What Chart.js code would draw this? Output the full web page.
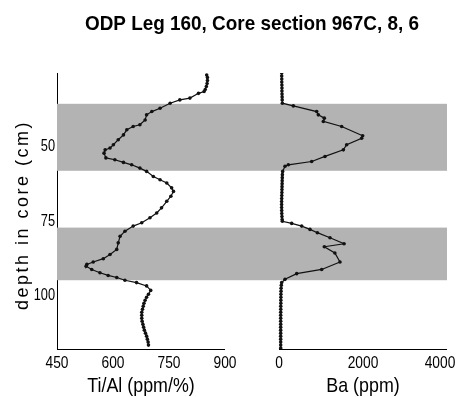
<!DOCTYPE html>
<html>
<head>
<meta charset="utf-8">
<script src="https://cdn.jsdelivr.net/npm/chart.js@4.4.1/dist/chart.umd.min.js"></script>
<style>
  html, body { margin: 0; padding: 0; background: #fff; }
  #wrap { width: 463px; height: 397px; position: relative; }
</style>
</head>
<body>
<div id="wrap"><canvas id="coreChart" width="463" height="397"></canvas></div>
<script>
const chartTitle = 'ODP Leg 160, Core section 967C, 8, 6';
const depthTitle = 'depth in core (cm)';
const tiTitle = 'Ti/Al (ppm/%)';
const baTitle = 'Ba (ppm)';

const depthTicks = [50, 75, 100];
const tiTicks = [450, 600, 750, 900];
const baTicks = [0, 2000, 4000];

// shaded sapropel intervals (cm)
const bandTop = [36.3, 77.7];
const bandBottom = [58.7, 95.3];

const tiDepth = [26.7, 27.5, 28.5, 29.5, 30.5, 31.5, 32.2, 32.8, 34.4, 35, 36.1, 37.8, 38.9, 40, 41.7, 43.3, 43.9, 45, 46.7, 48.3, 50, 51.1, 51.7, 52.8, 54.4, 55, 55.9, 56.7, 57.8, 58.9, 60.6, 61.7, 62.8, 64.4, 65.6, 67.2, 68.9, 71.1, 72.8, 74.4, 76.1, 77.2, 78.9, 80.6, 82.8, 85, 86.7, 88.1, 89.2, 90, 90.6, 91.7, 92.8, 93.7, 94.4, 95.3, 96.1, 97.2, 98.7, 100, 101, 102, 103, 104, 105, 106, 107, 108, 109, 110, 111, 112, 113, 114, 115, 116, 117];
const tiValues = [851, 853, 853, 852, 850, 847, 844, 829, 806, 779, 753, 726, 704, 690, 686, 672, 654, 637, 628, 614, 601, 592, 579, 576, 581, 605, 628, 650, 672, 690, 708, 726, 744, 757, 762, 755, 744, 730, 717, 699, 677, 654, 632, 619, 614, 610, 592, 574, 547, 530, 528, 543, 565, 587, 610, 632, 663, 690, 701, 695, 690, 686, 683, 681, 679, 677, 677, 677, 678, 680, 682, 684, 687, 690, 692, 694, 695];

const baDepth = [26, 27, 28, 29, 30, 31, 32, 33, 34, 35, 36.1, 37, 38.9, 40, 41.1, 42.2, 43.9, 47, 47.8, 50, 51.7, 53.9, 55.6, 56.7, 57.2, 58.9, 60, 61, 62, 63, 64, 65, 66, 67, 68, 69, 70, 71, 72, 73, 74, 75, 75.6, 76.3, 77.2, 78.3, 79.4, 81.1, 83.1, 84.1, 86.2, 89.2, 91.7, 93.1, 95, 96.1, 97, 98, 99, 100, 101, 102, 103, 104, 105, 106, 107, 108, 109, 110, 111, 112, 113, 114, 115, 116, 117, 118];
const baValues = [64, 64, 66, 66, 68, 70, 70, 72, 74, 76, 80, 341, 897, 936, 1079, 1055, 1492, 1992, 1968, 1611, 1532, 1095, 778, 222, 143, 87, 80, 78, 76, 74, 72, 70, 68, 66, 64, 62, 62, 62, 64, 66, 70, 75, 80, 302, 540, 738, 913, 1214, 1548, 1079, 1330, 1452, 1016, 421, 143, 64, 55, 50, 48, 45, 45, 44, 43, 42, 42, 41, 40, 40, 40, 40, 40, 40, 40, 40, 40, 40, 40, 40];

const sans = "'Liberation Sans', Arial, sans-serif";

// no condensed face installed, so squeeze Liberation Sans horizontally
function narrowText(ctx, text, x, y, font, squeeze, align) {
    ctx.save();
    ctx.translate(x, y);
    ctx.scale(squeeze, 1);
    ctx.font = font;
    ctx.textAlign = align || 'center';
    ctx.textBaseline = 'alphabetic';
    ctx.fillText(text, 0, 0);
    ctx.restore();
}

const decorations = {
    id: 'decorations',
    beforeDatasetsDraw(chart) {
        const ctx = chart.ctx;
        const area = chart.chartArea;
        const y = chart.scales.y;
        ctx.save();
        ctx.fillStyle = '#b3b3b3';
        for (let i = 0; i < bandTop.length; i++) {
            const top = y.getPixelForValue(bandTop[i]);
            const bottom = y.getPixelForValue(bandBottom[i]);
            ctx.fillRect(area.left, top, area.right - area.left, bottom - top);
        }
        ctx.restore();
    },
    afterDraw(chart) {
        const ctx = chart.ctx;
        const area = chart.chartArea;
        const xTi = chart.scales.xTi;
        const xBa = chart.scales.xBa;
        const y = chart.scales.y;
        ctx.save();
        ctx.strokeStyle = '#000';
        ctx.fillStyle = '#000';
        ctx.lineWidth = 1;
        const axisY = Math.round(area.bottom) + 0.5;
        ctx.beginPath();
        ctx.moveTo(xTi.getPixelForValue(tiTicks[0]), axisY);
        ctx.lineTo(xTi.getPixelForValue(tiTicks[tiTicks.length - 1]), axisY);
        ctx.moveTo(xBa.getPixelForValue(baTicks[0]), axisY);
        ctx.lineTo(xBa.getPixelForValue(baTicks[baTicks.length - 1]), axisY);
        ctx.stroke();

        // title
        narrowText(ctx, chartTitle, (area.left + area.right) / 2, 30, 'bold 21px ' + sans, 0.9);

        // y tick labels
        depthTicks.forEach(v => narrowText(ctx, String(v), area.left - 2, y.getPixelForValue(v) + 6, '16px ' + sans, 0.8, 'right'));

        // x tick labels
        const tickFont = '17px ' + sans;
        tiTicks.forEach(v => narrowText(ctx, String(v), xTi.getPixelForValue(v), area.bottom + 19, tickFont, 0.81));
        baTicks.forEach(v => {
            const px = Math.min(xBa.getPixelForValue(v), area.right - 7);
            narrowText(ctx, String(v), px, area.bottom + 19, tickFont, 0.81);
        });

        // x axis titles
        const titleFont = '21px ' + sans;
        const tiMid = (xTi.getPixelForValue(tiTicks[0]) + xTi.getPixelForValue(tiTicks[tiTicks.length - 1])) / 2;
        const baMid = (xBa.getPixelForValue(baTicks[0]) + xBa.getPixelForValue(baTicks[baTicks.length - 1])) / 2;
        narrowText(ctx, tiTitle, tiMid, area.bottom + 43, titleFont, 0.85);
        narrowText(ctx, baTitle, baMid, area.bottom + 43, titleFont, 0.85);

        // y axis title, letter spaced
        ctx.translate(23, (area.top + area.bottom) / 2 + 4);
        ctx.rotate(-Math.PI / 2);
        ctx.font = '18px ' + sans;
        ctx.textAlign = 'center';
        ctx.textBaseline = 'middle';
        ctx.letterSpacing = '2.5px';
        ctx.fillText(depthTitle, 0, 0);
        ctx.restore();
    }
};

new Chart(document.getElementById('coreChart'), {
    type: 'line',
    data: {
        datasets: [{
            label: 'Ti/Al',
            xAxisID: 'xTi',
            data: tiDepth.map((d, i) => ({ x: tiValues[i], y: d })),
            borderColor: '#111',
            backgroundColor: '#111',
            borderWidth: 1.2,
            pointRadius: 1.8,
            pointBorderWidth: 0,
            tension: 0
        }, {
            label: 'Ba',
            xAxisID: 'xBa',
            data: baDepth.map((d, i) => ({ x: baValues[i], y: d })),
            borderColor: '#111',
            backgroundColor: '#111',
            borderWidth: 1.2,
            pointRadius: 1.8,
            pointBorderWidth: 0,
            tension: 0
        }]
    },
    options: {
        responsive: false,
        animation: false,
        events: [],
        layout: { padding: { left: 0, right: 16, top: 73, bottom: 48 } },
        plugins: {
            legend: { display: false },
            tooltip: { enabled: false },
            title: { display: false }
        },
        scales: {
            xTi: {
                type: 'linear',
                display: false,
                min: 450,
                max: 1494.6
            },
            xBa: {
                type: 'linear',
                display: false,
                min: -5286,
                max: 4000
            },
            y: {
                type: 'linear',
                reverse: true,
                min: 26,
                max: 118.3,
                afterBuildTicks: scale => { scale.ticks = depthTicks.map(v => ({ value: v })); },
                afterFit: scale => { scale.width = 57; },
                grid: { display: false, drawTicks: false },
                border: { display: true, color: '#000', width: 1 },
                ticks: { display: false }
            }
        }
    },
    plugins: [decorations]
});
</script>
</body>
</html>
